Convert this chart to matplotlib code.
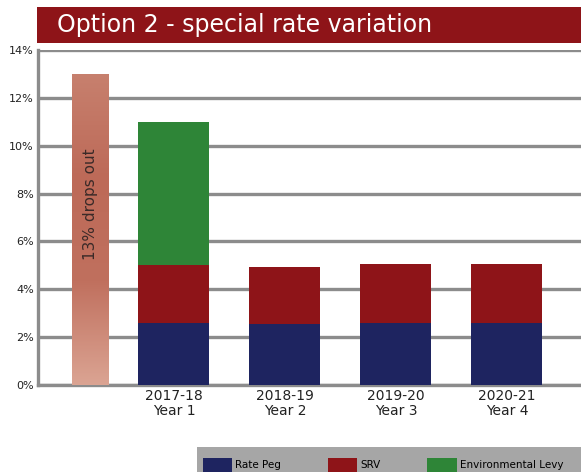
import numpy as np
import matplotlib
matplotlib.use('Agg')
from matplotlib import pyplot as plt
from matplotlib.patches import Rectangle

# data
years = ['2017-18\nYear 1', '2018-19\nYear 2', '2019-20\nYear 3', '2020-21\nYear 4']
rate_peg = [2.6, 2.55, 2.6, 2.6]
srv = [2.4, 2.4, 2.45, 2.45]
env_levy = [6.0, 0, 0, 0]
dropped = 13.0
dropped_label = '13% drops out'
yticks = [0, 2, 4, 6, 8, 10, 12, 14]

navy = '#1e2460'
red = '#8e1418'
green = '#2e8537'
grid_c = '#8c8c8c'

fig = plt.figure(figsize=(5.81, 4.72), dpi=100)
W, H = 581, 472

#title banner
fig.add_artist(Rectangle((37 / W, 1 - 43 / H), 1 - 37 / W, 36 / H,
                         transform=fig.transFigure, color=red, lw=0))
fig.text(57 / W, 1 - 25 / H, 'Option 2 - special rate variation',
         color='white', fontsize=17, va='center', ha='left')

ax = fig.add_axes([38 / W, 1 - 385 / H, 1 - 38 / W, (385 - 50) / H])
x = np.arange(len(years))
w = 0.64

b1 = ax.bar(x, rate_peg, w, color=navy, zorder=3)
b2 = ax.bar(x, srv, w, bottom=rate_peg, color=red, zorder=3)
bottom2 = np.array(rate_peg) + np.array(srv)
b3 = ax.bar(x, env_levy, w, bottom=bottom2, color=green, zorder=3)

#the bar that drops out, with a soft gradient
xd = -0.75
wd = 0.33
db = ax.bar(xd, dropped, wd, color='none', zorder=3)
grad = np.linspace(0, 1, 256).reshape(-1, 1)
cmap = matplotlib.colors.LinearSegmentedColormap.from_list(
    'drop', ['#dba493', '#c0705e', '#bd6a58', '#c7806e'])
im = ax.imshow(grad, cmap=cmap, aspect='auto', origin='lower',
               extent=(xd - wd / 2, xd + wd / 2, 0, dropped), zorder=3)
im.set_clip_path(db.patches[0])
ax.text(xd, 7.55, dropped_label, rotation=90, ha='center', va='center',
        fontsize=11, color='#3a2a28', zorder=4)

ax.set_xlim(-1.225, 3.667)
ax.set_ylim(0, 14)
ax.set_yticks(yticks)
ax.set_yticklabels([f'{t}%' for t in yticks], fontsize=8, color='#222222')
ax.set_xticks(x)
ax.set_xticklabels(years, fontsize=10, color='#222222', linespacing=1.1)
ax.tick_params(length=0, pad=3)
ax.yaxis.grid(True, color=grid_c, lw=2.4, zorder=1)
for s in ['top', 'right']:
    ax.spines[s].set_visible(False)
for s in ['left', 'bottom']:
    ax.spines[s].set_color(grid_c)
    ax.spines[s].set_linewidth(2.4)

#legend strip at the bottom
fig.add_artist(Rectangle((197 / W, 0), 1 - 197 / W, 25 / H,
                         transform=fig.transFigure, color='#a6a6a6', lw=0))
fig.legend([b1, b2, b3], ['Rate Peg', 'SRV', 'Environmental Levy'],
           ncol=3, loc='lower left', bbox_to_anchor=(203 / W, 0),
           frameon=False, fontsize=7.5, handlelength=2.8, handleheight=1.7,
           handletextpad=0.3, columnspacing=4.5, borderaxespad=0, borderpad=0)

fig.savefig('out.png', dpi=100)
